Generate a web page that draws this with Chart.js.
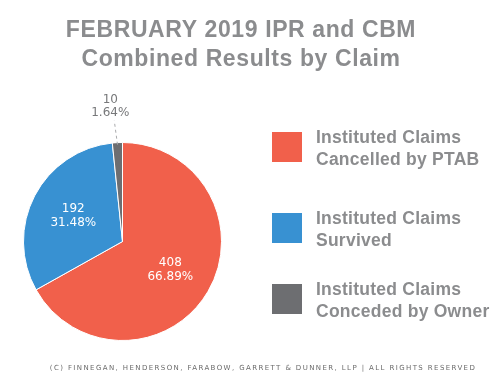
<!DOCTYPE html>
<html>
<head>
<meta charset="utf-8">
<script src="https://cdn.jsdelivr.net/npm/chart.js@4/dist/chart.umd.min.js"></script>
<style>
  html, body { margin: 0; padding: 0; background: #fff; }
  #wrap { width: 498px; height: 390px; position: relative; }
</style>
</head>
<body>
<div id="wrap"><canvas id="pieChart" width="498" height="390"></canvas></div>
<script>
// chart data
const categories = [
    ['Instituted Claims', 'Cancelled by PTAB'],
    ['Instituted Claims', 'Survived'],
    ['Instituted Claims', 'Conceded by Owner']
];
const claimCounts = [408, 192, 10];
const claimPercents = ['66.89%', '31.48%', '1.64%'];
const sliceColors = ['#f1604b', '#3891d2', '#6d6e71'];
const titleLines = ['FEBRUARY 2019 IPR and CBM', 'Combined Results by Claim'];
const footerText = '(C) FINNEGAN, HENDERSON, FARABOW, GARRETT & DUNNER, LLP | ALL RIGHTS RESERVED';

const GREY = '#8b8c8e';

/* title, slice labels, legend and footer */
const decorPlugin = {
    id: 'decor',
    afterDraw(chart) {
        const ctx = chart.ctx;
        ctx.save();

        // title
        ctx.fillStyle = GREY;
        ctx.textAlign = 'center';
        ctx.textBaseline = 'middle';
        ctx.font = 'bold 23px "Liberation Sans", Arial, sans-serif';
        ctx.letterSpacing = '0.6px';
        ctx.fillText(titleLines[0], 241, 31);
        ctx.fillText(titleLines[1], 241, 60);
        ctx.letterSpacing = '0px';

        // slice labels
        const arcs = chart.getDatasetMeta(0).data;
        ctx.font = '12px "DejaVu Sans", Verdana, sans-serif';
        arcs.forEach((arc, i) => {
            const p = arc.getProps(['x', 'y', 'startAngle', 'endAngle', 'outerRadius'], true);
            const mid = (p.startAngle + p.endAngle) / 2;
            if (i < 2) {
                const r = p.outerRadius * 0.56;
                const x = p.x + Math.cos(mid) * r;
                const y = p.y + Math.sin(mid) * r;
                ctx.fillStyle = '#ffffff';
                ctx.fillText(String(claimCounts[i]), x, y - 7);
                ctx.fillText(claimPercents[i], x, y + 7);
            } else {
                // small slice: label outside with dashed leader
                const x0 = p.x + Math.cos(mid) * (p.outerRadius - 2);
                const y0 = p.y + Math.sin(mid) * (p.outerRadius - 2);
                const x1 = p.x + Math.cos(mid) * (p.outerRadius + 22) - 2;
                const y1 = p.y + Math.sin(mid) * (p.outerRadius + 22);
                ctx.strokeStyle = '#a9aaac';
                ctx.lineWidth = 1;
                ctx.setLineDash([3, 3]);
                ctx.beginPath();
                ctx.moveTo(x0, y0);
                ctx.lineTo(x1, y1);
                ctx.stroke();
                ctx.setLineDash([]);
                ctx.fillStyle = '#77787a';
                ctx.fillText(String(claimCounts[i]), x1 - 4, y1 - 21);
                ctx.fillText(claimPercents[i], x1 - 4, y1 - 8);
            }
        });

        // legend
        const boxX = 272, box = 30;
        const centers = [147, 228, 299];
        ctx.textAlign = 'left';
        ctx.font = 'bold 17.5px "Liberation Sans", Arial, sans-serif';
        ctx.letterSpacing = '0.25px';
        categories.forEach((lines, i) => {
            const cy = centers[i];
            ctx.fillStyle = sliceColors[i];
            ctx.fillRect(boxX, cy - box / 2, box, box);
            ctx.fillStyle = GREY;
            ctx.fillText(lines[0], 316, cy - 9);
            ctx.fillText(lines[1], 316, cy + 13);
        });

        // footer
        ctx.textAlign = 'center';
        ctx.fillStyle = '#6a6a6a';
        ctx.font = '7px "DejaVu Sans", sans-serif';
        ctx.letterSpacing = '1.4px';
        ctx.fillText(footerText, 263, 368);
        ctx.restore();
    }
};

const ctx = document.getElementById('pieChart').getContext('2d');
const chart = new Chart(ctx, {
    type: 'pie',
    data: {
        labels: categories.map(l => l.join(' ')),
        datasets: [{
            data: claimCounts,
            backgroundColor: sliceColors,
            borderColor: '#ffffff',
            borderWidth: 1
        }]
    },
    options: {
        responsive: false,
        animation: false,
        events: [],
        layout: { padding: { left: 22, right: 275, top: 142, bottom: 49 } },
        plugins: {
            legend: { display: false },
            tooltip: { enabled: false }
        }
    },
    plugins: [decorPlugin]
});
</script>
</body>
</html>
